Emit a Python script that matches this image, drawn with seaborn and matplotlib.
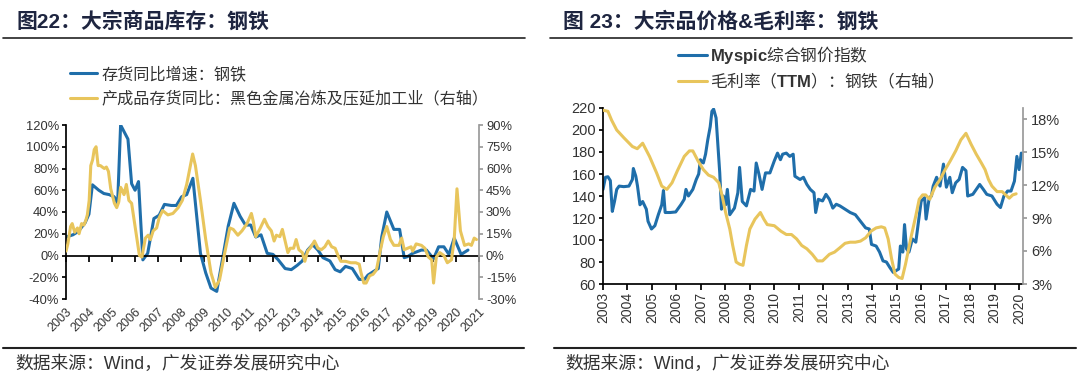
import matplotlib
matplotlib.use("Agg")
import matplotlib.pyplot as plt
import seaborn as sns
from matplotlib.ticker import PercentFormatter, FixedLocator
from matplotlib.lines import Line2D
from matplotlib.font_manager import FontProperties

# ---------------- data: left chart (inventory yoy, %) ----------------
inv_t = [2003.0, 2003.3, 2003.53, 2003.83, 2004.0, 2004.15, 2004.43, 2004.65, 2004.88, 2005.1,
         2005.25, 2005.38, 2005.7, 2005.86, 2006.01, 2006.16, 2006.35, 2006.56, 2006.83, 2007.06,
         2007.29, 2007.59, 2007.81, 2008.04, 2008.26, 2008.53, 2008.86, 2009.09, 2009.32, 2009.57,
         2009.84, 2010.07, 2010.32, 2010.59, 2010.82, 2011.05, 2011.27, 2011.5, 2011.77, 2012.02,
         2012.25, 2012.55, 2012.82, 2013.08, 2013.3, 2013.53, 2013.75, 2013.98, 2014.2, 2014.5,
         2014.73, 2014.95, 2015.18, 2015.48, 2015.78, 2016.01, 2016.16, 2016.38, 2016.61, 2016.76,
         2016.98, 2017.29, 2017.54, 2017.74, 2017.89, 2018.11, 2018.49, 2018.71, 2019.02, 2019.24,
         2019.47, 2019.69, 2019.92, 2020.22, 2020.52]
inv_yoy = [17, 19, 22, 30, 38, 65, 60, 57, 56, 54,
           48, 120, 107, 66, 60, 68, -4, 2, 34, 37,
           47, 46, 46, 54, 56, 71, 2, -16, -30, -33,
           -1, 27, 48, 36, 28, 28, 17, 19, 2, 1,
           -4, -12, -13, -9, -5, 5, 10, 5, -2, -5,
           -13, -15, -10, -12, -22, -22, -18, -15, -12, 17,
           40, 24, 24, -2, -1, 2, 5, 5, -3, 8,
           8, 1, 16, 1, 5]

fg_t = [2003.0, 2003.08, 2003.2, 2003.27, 2003.38, 2003.5, 2003.57, 2003.68, 2003.78, 2003.86,
        2003.93, 2004.01, 2004.08, 2004.16, 2004.23, 2004.31, 2004.4, 2004.5, 2004.58, 2004.67,
        2004.76, 2004.85, 2004.95, 2005.11, 2005.21, 2005.3, 2005.38, 2005.45, 2005.53, 2005.63,
        2005.74, 2005.86, 2006.01, 2006.2, 2006.31, 2006.46, 2006.58, 2006.68, 2006.8, 2006.95,
        2007.06, 2007.21, 2007.44, 2007.66, 2007.89, 2008.07, 2008.26, 2008.41, 2008.52, 2008.64,
        2008.86, 2009.09, 2009.32, 2009.51, 2009.69, 2009.92, 2010.14, 2010.29, 2010.49, 2010.67,
        2010.89, 2011.08, 2011.17, 2011.27, 2011.47, 2011.65, 2011.8, 2011.95, 2012.07, 2012.17,
        2012.32, 2012.43, 2012.55, 2012.67, 2012.77, 2012.92, 2013.03, 2013.15, 2013.3, 2013.41,
        2013.53, 2013.68, 2013.83, 2013.98, 2014.13, 2014.28, 2014.43, 2014.58, 2014.73, 2014.88,
        2014.98, 2015.18, 2015.41, 2015.63, 2015.78, 2015.86, 2015.98, 2016.08, 2016.23, 2016.38,
        2016.53, 2016.68, 2016.83, 2016.98, 2017.14, 2017.29, 2017.51, 2017.63, 2017.74, 2017.89,
        2018.04, 2018.11, 2018.26, 2018.49, 2018.64, 2018.79, 2018.94, 2019.02, 2019.14, 2019.29,
        2019.47, 2019.62, 2019.8, 2019.92, 2020.04, 2020.19, 2020.37, 2020.55, 2020.67, 2020.79,
        2020.89]
fg_yoy = [3, 8, 20, 22, 16, 19, 15, 22, 21, 24,
          28, 38, 62, 66, 73, 75, 62, 62, 61, 60,
          61, 58, 46, 36, 33, 37, 47, 45, 42, 49,
          38, 36, 20, 0, -1, 12, 14, 11, 17, 19,
          26, 31, 28, 29, 33, 38, 49, 61, 70, 62,
          38, 11, -12, -22, -17, 2, 19, 18, 14, 17,
          22, 29, 23, 13, 19, 25, 20, 17, 10, 14,
          13, 18, 10, 2, 5, 5, 11, 4, 2, -4,
          3, 6, 10, 5, 4, 6, 10, 6, 5, -1,
          -4, -4, -5, -5, -6, -12, -19, -19, -14, -13,
          -10, 2, 13, 20, 11, 7, 7, 12, 4, 5,
          6, 3, 8, 7, 5, -1, -3, -19, -1, 2,
          0, -5, -3, 11, 46, 17, 7, 8, 7, 12,
          11]

# ---------------- data: right chart (price index, margin %) ----------------
px_t = [2003.0, 2003.1, 2003.2, 2003.3, 2003.38, 2003.47, 2003.56, 2003.66, 2003.85, 2004.06,
        2004.2, 2004.24, 2004.34, 2004.41, 2004.51, 2004.62, 2004.77, 2004.84, 2004.98, 2005.12,
        2005.26, 2005.4, 2005.47, 2005.54, 2005.75, 2005.97, 2006.18, 2006.32, 2006.39, 2006.49,
        2006.67, 2006.81, 2006.91, 2006.98, 2007.1, 2007.19, 2007.28, 2007.38, 2007.45, 2007.52,
        2007.62, 2007.7, 2007.77, 2007.84, 2007.92, 2008.01, 2008.08, 2008.18, 2008.37, 2008.51,
        2008.58, 2008.69, 2008.86, 2009.03, 2009.17, 2009.26, 2009.37, 2009.5, 2009.64, 2009.82,
        2010.0, 2010.13, 2010.25, 2010.34, 2010.49, 2010.63, 2010.77, 2010.84, 2011.05, 2011.19,
        2011.33, 2011.47, 2011.62, 2011.69, 2011.8, 2011.97, 2012.11, 2012.25, 2012.39, 2012.53,
        2012.68, 2012.89, 2013.1, 2013.31, 2013.52, 2013.73, 2013.88, 2013.97, 2014.16, 2014.3,
        2014.44, 2014.58, 2014.72, 2014.86, 2014.96, 2015.08, 2015.15, 2015.25, 2015.32, 2015.4,
        2015.5, 2015.64, 2015.78, 2015.92, 2016.0, 2016.14, 2016.2, 2016.33, 2016.42, 2016.49,
        2016.63, 2016.77, 2016.91, 2017.03, 2017.17, 2017.27, 2017.41, 2017.55, 2017.69, 2017.83,
        2017.9, 2018.11, 2018.25, 2018.39, 2018.54, 2018.68, 2018.89, 2019.1, 2019.24, 2019.38,
        2019.53, 2019.67, 2019.81, 2019.91, 2020.0, 2020.09]
px_idx = [146, 157, 157.5, 154, 126, 135, 146, 149, 148.5, 149,
          155, 165, 158, 149, 132, 135, 128, 117, 110, 113,
          123, 132, 145, 125, 125, 125.5, 132, 137, 146, 140,
          146, 155, 160, 173, 170, 178, 191, 203, 217, 219,
          211, 185, 161, 128, 140, 132, 146, 123, 129, 143,
          166, 135, 131, 146, 144.5, 170, 160, 146, 161, 161,
          172, 179, 173, 178, 179, 176, 178, 158, 155, 157,
          150.5, 146, 143, 125, 137, 135.5, 141.5, 137, 129, 132.5,
          131, 128, 125, 123, 117, 111, 110, 96, 94.5, 89,
          81, 80, 75, 70.5, 72, 73.6, 94.5, 89, 114, 92,
          89, 101, 98, 122, 135.5, 138.5, 119, 138.5, 140, 149,
          157, 149, 169, 148, 157, 143, 152, 155, 166, 163,
          140, 141.5, 146, 150.5, 146, 141.5, 140, 132.5, 129.5, 140,
          144.5, 144.5, 153.5, 176, 164, 179]

gm_t = [2003.0, 2003.2, 2003.35, 2003.56, 2003.85, 2004.2, 2004.4, 2004.62, 2004.9, 2005.19,
        2005.4, 2005.61, 2005.82, 2006.04, 2006.32, 2006.53, 2006.67, 2006.88, 2007.1, 2007.31,
        2007.52, 2007.73, 2007.87, 2008.01, 2008.18, 2008.3, 2008.44, 2008.58, 2008.72, 2008.86,
        2009.0, 2009.21, 2009.43, 2009.57, 2009.71, 2010.0, 2010.27, 2010.49, 2010.7, 2010.91,
        2011.12, 2011.33, 2011.55, 2011.76, 2011.97, 2012.11, 2012.25, 2012.46, 2012.68, 2012.89,
        2013.1, 2013.31, 2013.52, 2013.73, 2013.95, 2014.16, 2014.37, 2014.51, 2014.65, 2014.79,
        2014.93, 2015.08, 2015.22, 2015.36, 2015.57, 2015.78, 2015.92, 2016.06, 2016.18, 2016.35,
        2016.56, 2016.77, 2016.98, 2017.19, 2017.41, 2017.62, 2017.83, 2018.04, 2018.25, 2018.46,
        2018.61, 2018.75, 2018.89, 2019.1, 2019.31, 2019.45, 2019.6, 2019.74, 2019.88]
gm_pct = [18.8, 18.7, 17.9, 17.0, 16.3, 15.5, 15.3, 15.8, 14.6, 13.1,
          11.9, 11.6, 12.2, 13.3, 14.6, 15.1, 15.1, 14.2, 13.4, 12.9,
          12.7, 12.2, 11.0, 9.5, 8.0, 6.5, 5.0, 4.8, 4.7, 6.5,
          8.0, 8.9, 9.5, 8.9, 8.4, 8.3, 7.8, 7.5, 7.5, 7.1,
          6.5, 6.2, 5.7, 5.1, 5.1, 5.4, 5.7, 5.9, 6.3, 6.7,
          6.8, 6.8, 6.9, 7.2, 7.8, 8.1, 8.2, 8.1, 7.1, 5.3,
          3.9, 3.6, 3.5, 4.8, 7.1, 9.2, 10.7, 11.1, 11.1, 10.7,
          11.8, 12.5, 13.4, 14.2, 15.1, 16.1, 16.7, 15.7, 14.8, 14.0,
          13.4, 12.5, 11.9, 11.4, 11.4, 11.1, 10.8, 11.1, 11.2]

years_left = list(range(2003, 2022))
years_right = list(range(2003, 2021))

BLUE = "#1f6eaa"
GOLD = "#e8c55c"
TXT = "#333333"
GREY = "#9a9a9a"
TITLE = "#1e2540"

sns.set_theme(style="white")
plt.rcParams['font.family'] = ['Liberation Sans', 'Noto Sans CJK SC']
plt.rcParams['mathtext.fontset'] = 'custom'
plt.rcParams['mathtext.bf'] = 'Liberation Sans:bold'
plt.rcParams['mathtext.rm'] = 'Noto Sans CJK SC'
plt.rcParams['axes.unicode_minus'] = False

W, H = 1080, 378
fig = plt.figure(figsize=(10.8, 3.78), dpi=100)
fig.patch.set_facecolor("white")


def box(l, t, r, b):
    return [l / W, 1 - b / H, (r - l) / W, (b - t) / H]


def hline(x0, x1, y, lw=1.2):
    fig.add_artist(Line2D([x0 / W, x1 / W], [1 - y / H, 1 - y / H], color="#222222", lw=lw))


# ---------------- headers / footers ----------------
fig.text(16 / W, 1 - 21 / H, "图22：大宗商品库存：钢铁", fontsize=15, fontweight="bold",
         color=TITLE, va="center", ha="left")
fig.text(563 / W, 1 - 21 / H, "图 23：大宗品价格&毛利率：钢铁", fontsize=15, fontweight="bold",
         color=TITLE, va="center", ha="left")
hline(3, 525, 38)
hline(550, 1072, 38)
hline(3, 524, 348, lw=1.5)
hline(554, 1076, 348, lw=1.5)
for x0 in (15, 565):
    fig.text(x0 / W, 1 - 364 / H, "数据来源：Wind，广发证券发展研究中心", fontsize=12.8,
             color=TXT, va="center", ha="left")

# ---------------- left chart ----------------
ax1 = fig.add_axes(box(66, 125, 479, 299))
ax1r = ax1.twinx()
sns.lineplot(x=inv_t, y=inv_yoy, ax=ax1, color=BLUE, lw=2.2)
sns.lineplot(x=fg_t, y=fg_yoy, ax=ax1r, color=GOLD, lw=2.2)

ax1.set_xlim(2003, 2021)
ax1.set_ylim(-40, 120)
ax1r.set_ylim(-30, 90)
ax1.set_yticks(range(-40, 121, 20))
ax1r.set_yticks(range(-30, 91, 15))
ax1.yaxis.set_major_formatter(PercentFormatter(decimals=0))
ax1r.yaxis.set_major_formatter(PercentFormatter(decimals=0))
ax1.xaxis.set_major_locator(FixedLocator(years_left))

for s in ("top", "right"):
    ax1.spines[s].set_visible(False)
ax1.spines["left"].set_color("black")
ax1.spines["bottom"].set_color("black")
ax1.spines["bottom"].set_position(("data", 0))
for s in ("top", "left", "bottom"):
    ax1r.spines[s].set_visible(False)
ax1r.spines["right"].set_color(GREY)

ax1.tick_params(axis="y", direction="out", length=3, color="black", labelsize=9.3,
                labelcolor=TXT, pad=2, left=True)
ax1.tick_params(axis="x", direction="out", length=4, color="black", labelbottom=False, bottom=True)
ax1r.tick_params(axis="y", direction="out", length=3, color=GREY, labelsize=9.3,
                 labelcolor=TXT, pad=2, right=True)
ax1.set_xlabel("")
ax1.set_ylabel("")
ax1r.set_ylabel("")

sec = ax1.secondary_xaxis("bottom")
sec.set_xticks(years_left)
sec.set_xticklabels([str(y) for y in years_left], rotation=45, ha="right",
                    rotation_mode="anchor", fontsize=9, color=TXT)
sec.tick_params(length=0, pad=5)
sec.spines["bottom"].set_visible(False)

lh1 = [Line2D([], [], color=BLUE, lw=2.2), Line2D([], [], color=GOLD, lw=2.2)]
fig.legend(lh1, ["存货同比增速：钢铁", "产成品存货同比：黑色金属冶炼及压延加工业（右轴）"],
           loc="upper left", bbox_to_anchor=(70 / W, 1 - 66 / H), frameon=False,
           fontsize=11.6, handlelength=1.7, handletextpad=0.25, labelspacing=0.55,
           borderpad=0, borderaxespad=0, labelcolor=TXT)

# ---------------- right chart ----------------
ax2 = fig.add_axes(box(603, 108, 1023, 284))
ax2r = ax2.twinx()
sns.lineplot(x=px_t, y=px_idx, ax=ax2, color=BLUE, lw=2.2)
sns.lineplot(x=gm_t, y=gm_pct, ax=ax2r, color=GOLD, lw=2.2)

ax2.set_xlim(2003, 2020.16)
ax2.set_ylim(60, 220)
ax2r.set_ylim(3, 19)
ax2.set_yticks(range(60, 221, 20))
ax2r.set_yticks(range(3, 19, 3))
ax2r.yaxis.set_major_formatter(PercentFormatter(decimals=0))
ax2.set_xticks(years_right)
ax2.set_xticklabels([str(y) for y in years_right], rotation=90, fontsize=10, color=TXT)

for s in ("top", "right"):
    ax2.spines[s].set_visible(False)
ax2.spines["left"].set_color("black")
ax2.spines["bottom"].set_color("black")
for s in ("top", "left", "bottom"):
    ax2r.spines[s].set_visible(False)
ax2r.spines["right"].set_color(GREY)

ax2.tick_params(axis="y", direction="out", length=3, color="black", labelsize=10.5,
                labelcolor=TXT, pad=2, left=True)
ax2.tick_params(axis="x", direction="out", length=4, color="black", pad=2, bottom=True)
ax2r.tick_params(axis="y", direction="out", length=3, color=GREY, labelsize=10.5,
                 labelcolor=TXT, pad=3, right=True)
ax2.set_xlabel("")
ax2.set_ylabel("")
ax2r.set_ylabel("")

lh2 = [Line2D([], [], color=BLUE, lw=2.2), Line2D([], [], color=GOLD, lw=2.2)]
fig.legend(lh2, [r"$\bf{Myspic}$综合钢价指数", r"毛利率（$\bf{TTM}$）：钢铁（右轴）"],
           loc="upper left", bbox_to_anchor=(678 / W, 1 - 44 / H), frameon=False,
           prop=FontProperties(family="Noto Sans CJK SC", size=12),
           handlelength=1.75, handletextpad=0.15, labelspacing=0.3,
           borderpad=0, borderaxespad=0, labelcolor=TXT)

fig.savefig("out.png", dpi=100, facecolor="white")
